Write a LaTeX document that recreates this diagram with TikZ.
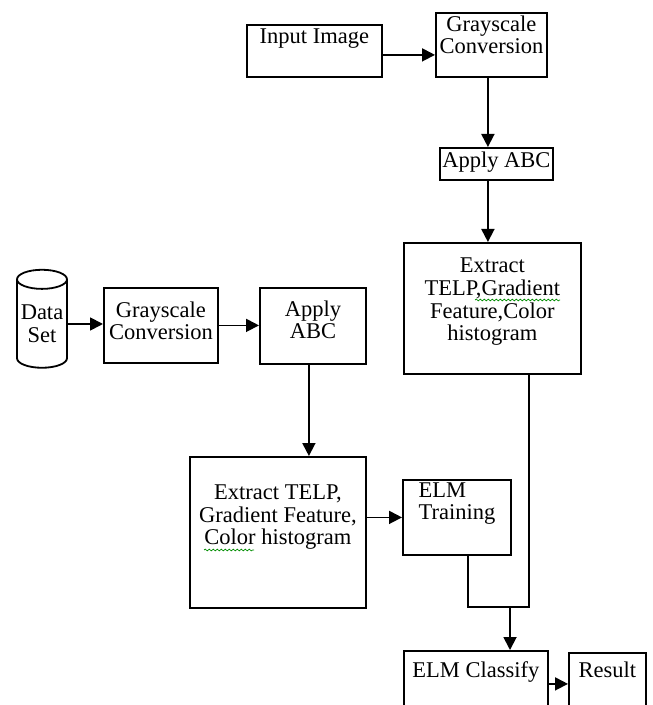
\documentclass[tikz,border=0pt]{standalone}
\usepackage{fontspec}
\setmainfont{Liberation Serif}
\usetikzlibrary{arrows.meta,shapes.geometric,positioning,decorations.pathmorphing}
\tikzstyle{block} = [rectangle, draw=black, line width=0.9pt, inner sep=0pt, anchor=north west, align=center]
\tikzstyle{store} = [cylinder, shape border rotate=90, draw=black, line width=0.9pt, inner sep=0pt, aspect=0.45, minimum width=25pt, minimum height=49pt, align=center]
\tikzstyle{flow} = [line width=0.9pt, -{Triangle[length=6.5pt,width=6.5pt]}]
\tikzstyle{wire} = [line width=0.9pt]
\tikzstyle{spell} = [green!55!black, line width=0.35pt, decorate, decoration={snake, amplitude=0.45pt, segment length=2pt}]

\begin{document}
\begin{tikzpicture}[x=0.5pt, y=-0.5pt, font=\fontsize{11.25}{11.4}\selectfont]
\useasboundingbox (0,0) rectangle (652,705);
\clip (0,0) rectangle (652,705);

% test image branch
\node (inimg) [block, minimum width=67.5pt, text height=9.5pt, text depth=16.5pt] at (246,24) {Input Image};
\node (grayq) [block, minimum width=55.5pt, text height=20.5pt, text depth=11.5pt] at (435,12) {Grayscale\\Conversion};
\node (abcq) [block, minimum width=56.5pt, text height=10pt, text depth=6pt] at (439,147) {Apply ABC};
\node (featq) [block, minimum width=88.5pt, text height=49pt, text depth=16.5pt] at (403,242) {Extract\\TELP,Gradient\\Feature,Color\\histogram};

% training branch
\node (data) [store] at (42,324) {Data\\Set};
\node (grayt) [block, minimum width=57pt, text height=26pt, text depth=11.5pt] at (103,287) {Grayscale\\Conversion};
\node (abct) [block, minimum width=53pt, text height=25.5pt, text depth=12.5pt] at (259,287) {Apply\\ABC};
\node (featt) [block, minimum width=88pt, text height=44pt, text depth=31.5pt] at (189,456) {Extract TELP,\\Gradient Feature,\\Color histogram};
\node (train) [block, minimum width=54pt, text height=20pt, text depth=17.5pt, align=left] at (402,479) {ELM\\Training};

% classification
\node (classify) [block, minimum width=72pt, text height=13.5pt, text depth=19.5pt] at (403,650) {ELM Classify};
\node (result) [block, minimum width=38.5pt, text height=12.5pt, text depth=19.5pt] at (568,652) {Result};
\coordinate (join) at (510,607);

\draw[flow] ([yshift=-2pt]inimg.east) -- ([yshift=-2pt]inimg.east -| grayq.west);
\draw[flow] ([xshift=-1.75pt]grayq.south) -- ([xshift=-1.75pt]grayq.south |- abcq.north);
\draw[flow] ([xshift=-1.75pt]grayq.south |- abcq.south) -- ([xshift=-1.75pt]grayq.south |- featq.north);
\draw[flow] (data.east) -- (data.east -| grayt.west);
\draw[flow] (grayt.east) -- (grayt.east -| abct.west);
\draw[flow] ([xshift=-2pt]abct.south) -- ([xshift=-2pt]abct.south |- featt.north);
\draw[flow] (train.west -| featt.east) -- (train.west);
\draw[wire] ([xshift=5.5pt]train.south) |- (join);
\draw[wire] ([xshift=18.25pt]featq.south) |- (join);
\draw[flow] (join) -- (join |- classify.north);
\draw[flow] (classify.east) -- (classify.east -| result.west);

% spell check marks
\draw[spell] (475,300) -- (560,300);
\draw[spell] (204,550) -- (254,550);
\end{tikzpicture}
\end{document}
